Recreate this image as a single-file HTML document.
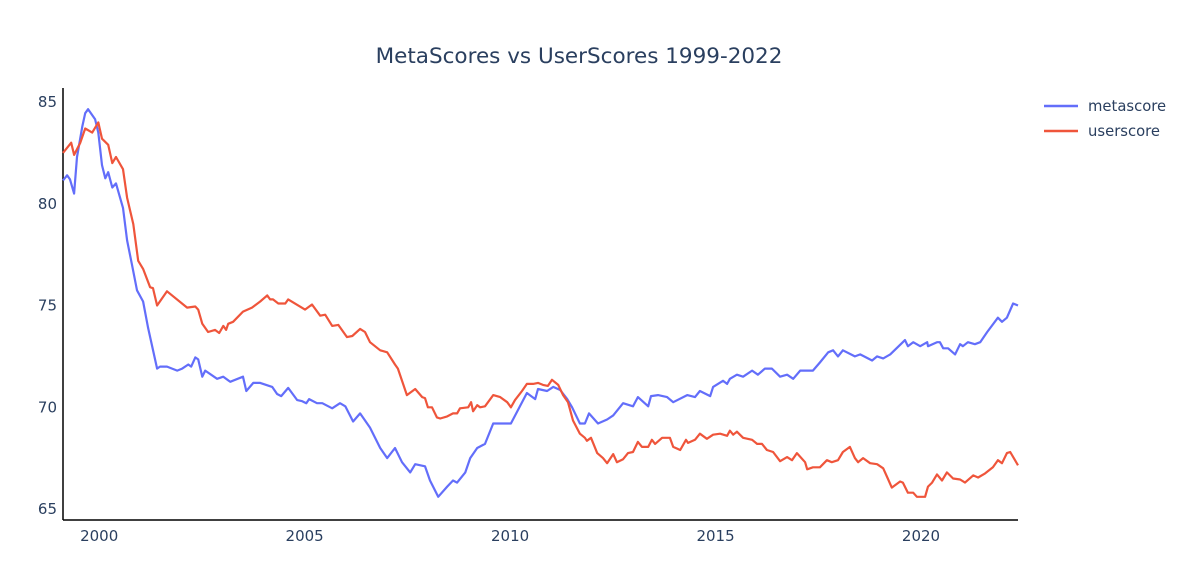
<!DOCTYPE html>
<html><head><meta charset="utf-8"><style>
html,body{margin:0;padding:0;background:#fff;}
svg{display:block;font-family:"DejaVu Sans","Liberation Sans",sans-serif;}
</style></head><body>
<svg id="chart" width="1180" height="561">
<rect width="1180" height="561" fill="#fff"/>
<text x="579" y="63" text-anchor="middle" font-size="21.5" fill="#2a3f5f">MetaScores vs UserScores 1999-2022</text>
<g id="axes"></g>
<g id="series"></g>
<g>
<g>
<line x1="1044" y1="106" x2="1078" y2="106" stroke="#636efa" stroke-width="2.5"/>
<text x="1088" y="111" font-size="14.8" fill="#2a3f5f">metascore</text></g>
<g>
<line x1="1044" y1="131" x2="1078" y2="131" stroke="#EF553B" stroke-width="2.5"/>
<text x="1088" y="136" font-size="14.8" fill="#2a3f5f">userscore</text></g>
</g>
</svg>
<script>
const metaYears=[1999.12,1999.22,1999.29,1999.39,1999.46,1999.59,1999.66,1999.73,1999.90,1999.98,2000.07,2000.15,2000.22,2000.32,2000.41,2000.58,2000.68,2000.80,2000.92,2001.07,2001.19,2001.41,2001.48,2001.65,2001.90,2002.02,2002.17,2002.24,2002.34,2002.41,2002.51,2002.58,2002.87,2003.02,2003.19,2003.50,2003.58,2003.75,2003.92,2004.21,2004.33,2004.43,2004.60,2004.82,2004.94,2005.04,2005.11,2005.30,2005.43,2005.67,2005.86,2005.99,2006.18,2006.35,2006.59,2006.84,2007.01,2007.20,2007.37,2007.57,2007.69,2007.93,2008.05,2008.25,2008.47,2008.61,2008.71,2008.91,2009.03,2009.20,2009.39,2009.59,2009.76,2010.02,2010.41,2010.61,2010.68,2010.90,2011.05,2011.22,2011.39,2011.51,2011.70,2011.82,2011.92,2012.14,2012.36,2012.51,2012.75,2012.99,2013.11,2013.36,2013.43,2013.60,2013.82,2013.97,2014.31,2014.50,2014.62,2014.87,2014.94,2015.18,2015.28,2015.35,2015.52,2015.67,2015.89,2016.03,2016.20,2016.37,2016.57,2016.74,2016.89,2017.06,2017.37,2017.54,2017.74,2017.86,2017.98,2018.10,2018.39,2018.52,2018.81,2018.93,2019.08,2019.25,2019.61,2019.68,2019.81,2019.98,2020.15,2020.17,2020.39,2020.46,2020.54,2020.66,2020.83,2020.95,2021.02,2021.14,2021.31,2021.44,2021.61,2021.87,2021.97,2022.09,2022.24,2022.36];
const metaScores=[81.15,81.4,81.2,80.5,82.3,83.8,84.45,84.65,84.15,83.5,81.9,81.25,81.55,80.8,81.0,79.8,78.2,77.0,75.75,75.2,73.9,71.9,72.0,72.0,71.8,71.9,72.1,72.0,72.45,72.35,71.5,71.8,71.4,71.5,71.25,71.5,70.8,71.2,71.2,71.0,70.65,70.55,70.95,70.35,70.3,70.2,70.4,70.2,70.2,69.95,70.2,70.05,69.3,69.7,69.0,68.0,67.5,68.0,67.3,66.8,67.2,67.1,66.4,65.6,66.1,66.4,66.3,66.8,67.5,68.0,68.2,69.2,69.2,69.2,70.7,70.4,70.9,70.8,71.0,70.85,70.4,70.0,69.2,69.2,69.7,69.2,69.4,69.6,70.2,70.05,70.5,70.05,70.55,70.6,70.5,70.25,70.6,70.5,70.8,70.55,71.0,71.3,71.15,71.4,71.6,71.5,71.8,71.6,71.9,71.9,71.5,71.6,71.4,71.8,71.8,72.2,72.7,72.8,72.5,72.8,72.5,72.6,72.3,72.5,72.4,72.6,73.3,73.0,73.2,73.0,73.2,73.0,73.2,73.2,72.9,72.9,72.6,73.1,73.0,73.2,73.1,73.2,73.7,74.4,74.2,74.4,75.1,75.0];
const userYears=[1999.12,1999.32,1999.39,1999.54,1999.66,1999.83,1999.98,2000.07,2000.22,2000.32,2000.41,2000.58,2000.68,2000.83,2000.95,2001.07,2001.24,2001.31,2001.41,2001.65,2002.14,2002.34,2002.41,2002.51,2002.65,2002.82,2002.92,2003.02,2003.09,2003.14,2003.26,2003.50,2003.72,2003.92,2004.09,2004.16,2004.23,2004.36,2004.53,2004.60,2005.01,2005.18,2005.38,2005.50,2005.67,2005.82,2006.03,2006.16,2006.35,2006.47,2006.59,2006.84,2007.01,2007.20,2007.27,2007.49,2007.69,2007.86,2007.93,2008.00,2008.10,2008.22,2008.30,2008.47,2008.61,2008.71,2008.78,2008.98,2009.05,2009.10,2009.20,2009.27,2009.39,2009.59,2009.76,2009.93,2010.02,2010.12,2010.29,2010.41,2010.56,2010.68,2010.80,2010.92,2011.02,2011.17,2011.29,2011.41,2011.53,2011.70,2011.82,2011.87,2011.97,2012.12,2012.26,2012.36,2012.51,2012.60,2012.75,2012.87,2012.99,2013.11,2013.21,2013.36,2013.45,2013.53,2013.70,2013.89,2013.97,2014.14,2014.28,2014.33,2014.50,2014.62,2014.79,2014.94,2015.11,2015.28,2015.35,2015.43,2015.52,2015.67,2015.89,2016.01,2016.13,2016.25,2016.40,2016.57,2016.74,2016.86,2016.98,2017.18,2017.23,2017.37,2017.54,2017.71,2017.83,2017.98,2018.10,2018.27,2018.39,2018.47,2018.59,2018.76,2018.93,2019.08,2019.17,2019.29,2019.49,2019.56,2019.68,2019.81,2019.90,2020.10,2020.17,2020.27,2020.39,2020.51,2020.63,2020.78,2020.95,2021.07,2021.27,2021.39,2021.56,2021.75,2021.87,2021.97,2022.09,2022.17,2022.36];
const userScores=[82.5,83.0,82.4,83.0,83.7,83.5,84.0,83.2,82.9,82.0,82.3,81.7,80.3,79.0,77.2,76.8,75.9,75.85,75.0,75.7,74.9,74.95,74.8,74.1,73.7,73.8,73.65,74.0,73.8,74.1,74.2,74.7,74.9,75.2,75.5,75.3,75.3,75.1,75.1,75.3,74.8,75.05,74.5,74.55,74.0,74.05,73.45,73.5,73.85,73.7,73.2,72.8,72.7,72.1,71.9,70.6,70.9,70.5,70.45,70.0,70.0,69.5,69.45,69.55,69.7,69.7,69.95,70.0,70.25,69.8,70.1,70.0,70.05,70.6,70.5,70.25,70.0,70.35,70.8,71.15,71.15,71.2,71.1,71.05,71.35,71.1,70.6,70.25,69.35,68.7,68.5,68.35,68.5,67.75,67.5,67.25,67.7,67.3,67.45,67.75,67.8,68.3,68.05,68.05,68.4,68.2,68.5,68.5,68.05,67.9,68.4,68.25,68.4,68.7,68.45,68.65,68.7,68.6,68.85,68.65,68.8,68.5,68.4,68.2,68.2,67.9,67.8,67.35,67.55,67.4,67.75,67.3,66.95,67.05,67.05,67.4,67.3,67.4,67.8,68.05,67.5,67.3,67.5,67.25,67.2,67.0,66.6,66.05,66.35,66.3,65.8,65.8,65.6,65.6,66.1,66.3,66.7,66.4,66.8,66.5,66.45,66.3,66.65,66.55,66.75,67.05,67.4,67.25,67.75,67.8,67.15];
const xTicks=[2000,2005,2010,2015,2020];
const yTicks=[65,70,75,80,85];

const L=63,R=1018,T=88,B=520;
const xMin=1999.12,xMax=2022.36,yMin=64.46,yMax=85.69;
function xScale(v){return L+(v-xMin)/(xMax-xMin)*(R-L);}
function yScale(v){return B-(v-yMin)/(yMax-yMin)*(B-T);}
const NS='http://www.w3.org/2000/svg';
const axes=document.getElementById('axes');
const series=document.getElementById('series');
function mk(tag,attrs,parent){const e=document.createElementNS(NS,tag);for(const k in attrs)e.setAttribute(k,attrs[k]);parent.appendChild(e);return e;}

const yl=mk('line',{x1:L,y1:T,x2:L,y2:B,stroke:'#000','stroke-width':1.5},axes);


const xl=mk('line',{x1:L,y1:B,x2:R,y2:B,stroke:'#000','stroke-width':1.5},axes);



xTicks.forEach(t=>{
  const x=xScale(t);
  const tx=mk('text',{x:x,y:B+21,'text-anchor':'middle','font-size':15,fill:'#2a3f5f'},axes);
  tx.textContent=t;
  
  
});
yTicks.forEach(t=>{
  const y=yScale(t);
  const tx=mk('text',{x:L-6,y:y+5,'text-anchor':'end','font-size':15,fill:'#2a3f5f'},axes);
  tx.textContent=t;
  
  
});

function line(xs,ys,color,name){
  const d=xs.map((x,i)=>(i?'L':'M')+xScale(x).toFixed(1)+','+yScale(ys[i]).toFixed(1)).join('');
  const p=mk('path',{d:d,fill:'none',stroke:color,'stroke-width':2.2,'stroke-linejoin':'round'},series);
  
  
}
line(metaYears,metaScores,'#636efa','metascore-line');
line(userYears,userScores,'#EF553B','userscore-line');
</script>
</body></html>
